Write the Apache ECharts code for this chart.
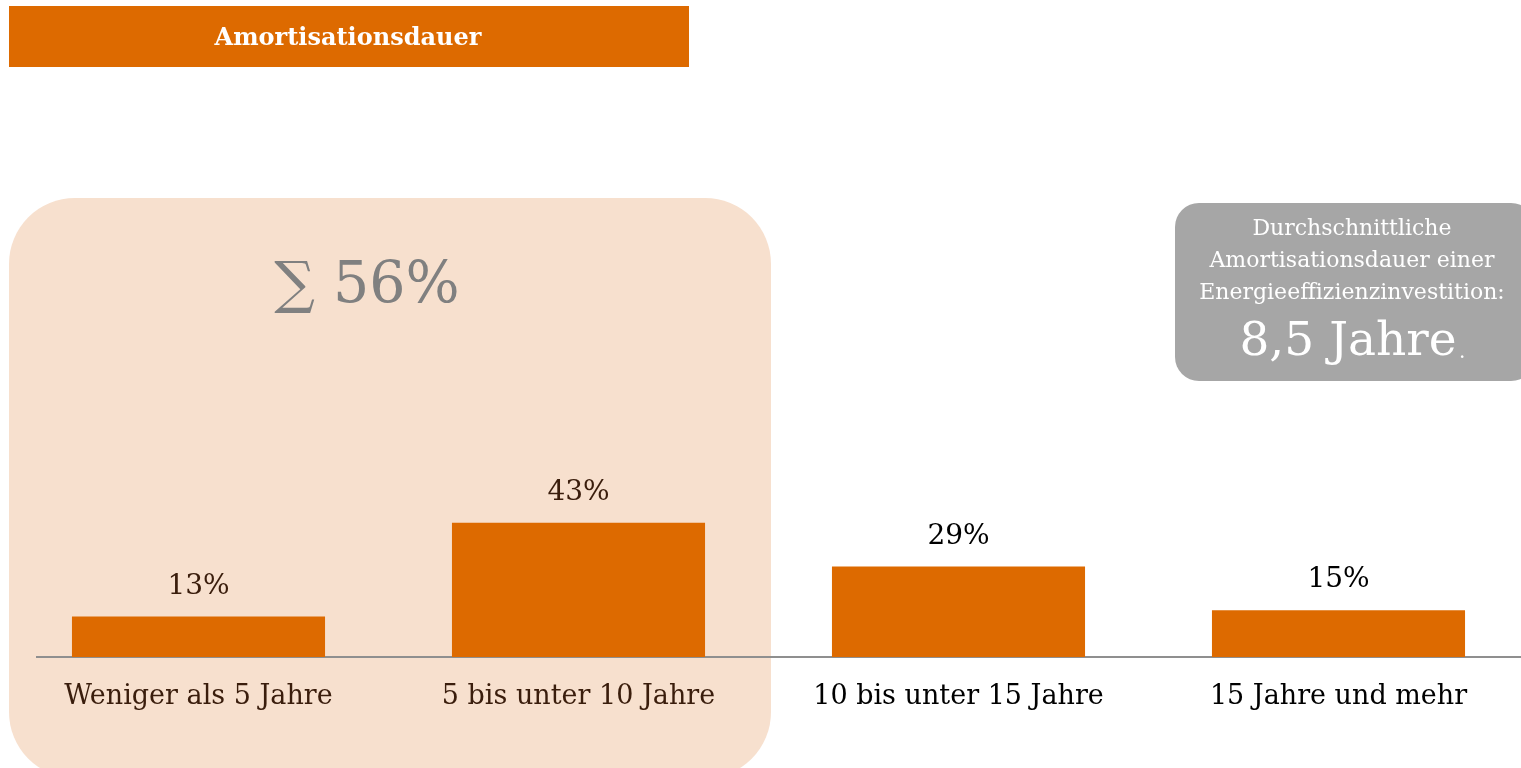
<!DOCTYPE html>
<html>
<head>
<meta charset="utf-8">
<script src="https://cdn.jsdelivr.net/npm/echarts@6/dist/echarts.min.js"></script>
<style>
html,body{margin:0;padding:0;background:#fff;overflow:hidden;}
#c{width:1530px;height:768px;}
</style>
</head>
<body>
<div id="c"></div>
<script>
var categories = ['Weniger als 5 Jahre', '5 bis unter 10 Jahre', '10 bis unter 15 Jahre', '15 Jahre und mehr'];
var values = [13, 43, 29, 15];
var highlighted = [true, true, false, false];
var titleText = 'Amortisationsdauer';
var infoLines = ['Durchschnittliche', 'Amortisationsdauer einer', 'Energieeffizienzinvestition:'];
var infoValue = '8,5 Jahre';

var ORANGE = '#DD6A00';
var DARK = '#3a1d0c';
var SERIF = '"DejaVu Serif", "Liberation Serif", serif';

var sumHighlighted = values.filter(function (v, i) { return highlighted[i]; }).reduce(function (a, b) { return a + b; }, 0);

var chart = echarts.init(document.getElementById('c'));
chart.setOption({
  backgroundColor: '#ffffff',
  animation: false,
  grid: { left: 8.5, right: 1.5, top: 345, bottom: 111 },
  xAxis: {
    type: 'category',
    data: categories.map(function (c, i) {
      return { value: c, textStyle: { color: highlighted[i] ? DARK : '#000000' } };
    }),
    axisLine: { show: false },
    axisTick: { show: false },
    axisLabel: {
      interval: 0,
      hideOverlap: false,
      margin: 25,
      fontFamily: SERIF,
      fontSize: 27,
      lineHeight: 30
    }
  },
  yAxis: {
    type: 'value', min: 0, max: 100,
    show: false, splitLine: { show: false }
  },
  series: [{
    type: 'bar',
    barWidth: '66.6%',
    data: values.map(function (v, i) {
      return {
        value: v,
        label: { color: highlighted[i] ? DARK : '#000000' }
      };
    }),
    itemStyle: { color: ORANGE },
    label: {
      show: true,
      position: 'top',
      distance: 15,
      fontFamily: SERIF,
      fontSize: 28,
      lineHeight: 30,
      formatter: '{c}%'
    },
    z: 3
  }],
  graphic: [
    {
      type: 'rect', z: -10,
      shape: { x: 9, y: 198, width: 762, height: 580, r: 66 },
      style: { fill: '#F7E0CE' }
    },
    {
      type: 'line', z: 1,
      shape: { x1: 36, y1: 657, x2: 1530, y2: 657 },
      style: { stroke: '#8f8f8f', lineWidth: 2 }
    },
    {
      type: 'rect', z: 1,
      shape: { x: 9, y: 6, width: 680, height: 61 },
      style: { fill: ORANGE }
    },
    {
      type: 'text', z: 2,
      style: {
        text: titleText, x: 348, y: 39, align: 'center', verticalAlign: 'middle',
        fill: '#ffffff', font: 'bold 24px ' + SERIF
      }
    },
    {
      type: 'text', z: 2,
      style: {
        text: '\u2211 ' + sumHighlighted + '%', x: 367, y: 287, align: 'center', verticalAlign: 'middle',
        fill: '#808080', font: '57px ' + SERIF
      }
    },
    {
      type: 'rect', z: 1,
      shape: { x: 1175, y: 203, width: 360, height: 178, r: 24 },
      style: { fill: '#A6A6A6' }
    },
    {
      type: 'text', z: 2,
      style: {
        text: infoLines.join('\n'), x: 1352, y: 213, align: 'center', verticalAlign: 'top',
        fill: '#ffffff', font: '22px ' + SERIF, lineHeight: 32
      }
    },
    {
      type: 'text', z: 2,
      style: {
        text: infoValue, x: 1348, y: 343, align: 'center', verticalAlign: 'middle',
        fill: '#ffffff', font: '47px ' + SERIF
      }
    },
    {
      type: 'text', z: 2,
      style: {
        text: '.', x: 1459, y: 353, align: 'left', verticalAlign: 'middle',
        fill: '#ffffff', font: '20px ' + SERIF
      }
    }
  ]
});
</script>
</body>
</html>
